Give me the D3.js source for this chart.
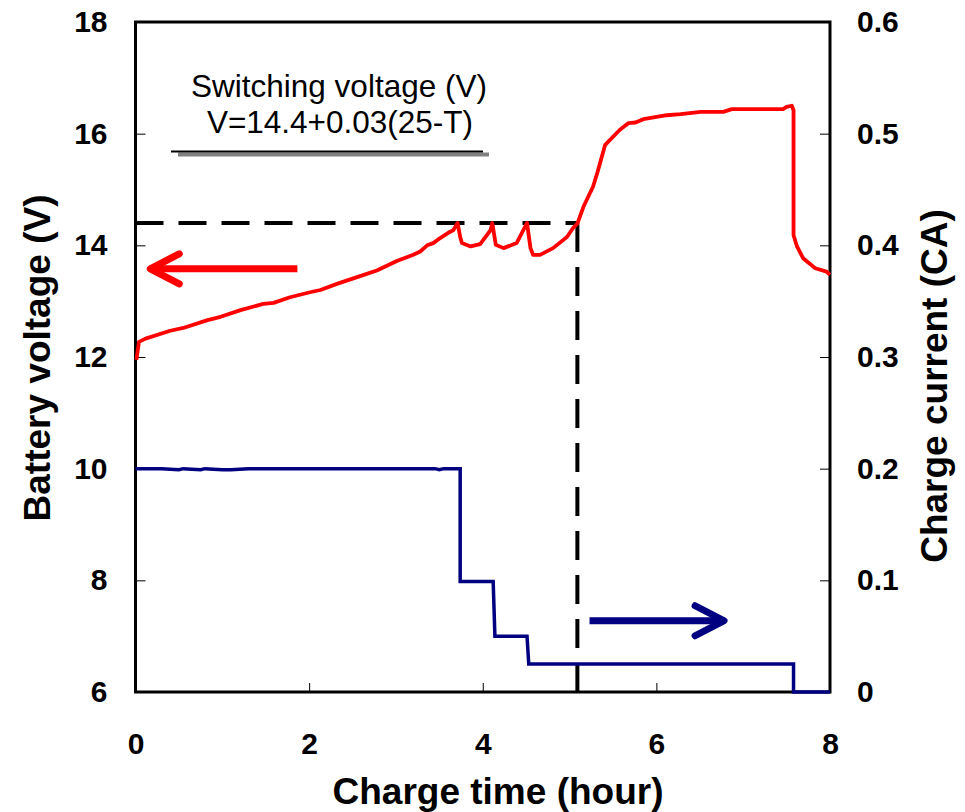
<!DOCTYPE html>
<html>
<head>
<meta charset="utf-8">
<script src="https://cdn.jsdelivr.net/npm/d3@7"></script>
<style>
  body { margin: 0; background: #fff; }
  svg { display: block; font-family: "Liberation Sans", Arial, sans-serif; }
</style>
</head>
<body>
<svg id="chart" width="965" height="812"></svg>
<script>
// battery voltage (hour, V)
let voltageData = [
  [0.01, 11.95], [0.04, 12.27], [0.115, 12.33], [0.40, 12.47], [0.55, 12.52], [0.83, 12.66],
  [0.98, 12.72], [1.21, 12.84], [1.47, 12.95], [1.59, 12.97], [1.78, 13.07], [2.01, 13.16],
  [2.13, 13.20], [2.32, 13.31], [2.63, 13.47], [2.78, 13.55], [3.01, 13.72], [3.20, 13.83],
  [3.28, 13.89], [3.36, 14.00], [3.43, 14.04], [3.51, 14.13], [3.62, 14.24], [3.66, 14.27],
  [3.71, 14.40], [3.74, 14.15], [3.76, 14.04], [3.86, 13.98], [3.97, 14.02], [4.09, 14.27],
  [4.11, 14.40], [4.15, 14.01], [4.24, 13.95], [4.39, 14.04], [4.51, 14.40], [4.55, 13.95],
  [4.58, 13.83], [4.66, 13.83], [4.81, 13.95], [4.97, 14.15], [5.04, 14.31], [5.09, 14.39],
  [5.16, 14.69], [5.27, 15.05], [5.32, 15.30], [5.41, 15.80], [5.58, 16.07], [5.68, 16.19],
  [5.76, 16.20], [5.85, 16.26], [6.12, 16.33], [6.28, 16.35], [6.51, 16.39], [6.77, 16.39],
  [6.87, 16.44], [7.46, 16.44], [7.50, 16.48], [7.56, 16.50], [7.58, 16.42], [7.58, 14.18],
  [7.62, 13.98], [7.69, 13.77], [7.83, 13.59], [7.96, 13.53], [8.0, 13.47]
]

// charge current (hour, CA)
let currentData = [
  [0, 0.2], [0.3, 0.2], [0.5, 0.199], [0.55, 0.2], [0.75, 0.199], [0.8, 0.2], [1.0, 0.199],
  [1.1, 0.199], [1.3, 0.2], [3.45, 0.2], [3.5, 0.199], [3.55, 0.2], [3.74, 0.2], [3.74, 0.099],
  [4.12, 0.099], [4.14, 0.05], [4.51, 0.05], [4.53, 0.025], [7.58, 0.025], [7.58, 0], [8, 0]
]

let xTicks = [0, 2, 4, 6, 8]
let leftTicks = [6, 8, 10, 12, 14, 16, 18]
let rightTicks = [0, 0.1, 0.2, 0.3, 0.4, 0.5, 0.6]

// switching voltage and the time it is reached
let switchVoltage = 14.4
let switchTime = 5.09

// arrows: [fromHour, toHour, level]
let voltageArrow = [1.865, 0.17, 13.58]
let currentArrow = [5.23, 6.78, 0.0638]

let legendLines = ["Switching voltage (V)", "V=14.4+0.03(25-T)"]

let svg = d3.select("#chart")

let plotLeft = 135.5, plotRight = 830, plotTop = 22, plotBottom = 692

let xscale = d3.scaleLinear().domain([0, 8]).range([plotLeft, plotRight])
let yLeft = d3.scaleLinear().domain([6, 18]).range([plotBottom, plotTop])
let yRight = d3.scaleLinear().domain([0, 0.6]).range([plotBottom, plotTop])

// axes with inward ticks
let xAxis = d3.axisBottom(xscale).tickValues(xTicks).tickFormat(d3.format("d"))
  .tickSizeInner(-9).tickSizeOuter(0).tickPadding(41)
let leftAxis = d3.axisLeft(yLeft).tickValues(leftTicks).tickFormat(d3.format("d"))
  .tickSizeInner(-10).tickSizeOuter(0).tickPadding(28)
let rightAxis = d3.axisRight(yRight).tickValues(rightTicks).tickFormat(d => d === 0 ? "0" : d3.format(".1f")(d))
  .tickSizeInner(-10).tickSizeOuter(0).tickPadding(27)

function styleAxis(g){
  g.select(".domain").remove()
  g.selectAll("line").attr("stroke", "#000").attr("stroke-width", 1)
  g.selectAll("text").attr("fill", "#000").style("font-size", "30px").style("font-weight", "bold")
    .style("font-family", "'Liberation Sans', Arial, sans-serif")
}

svg.append("g").attr("transform", "translate(0," + plotBottom + ")").call(xAxis).call(styleAxis)
svg.append("g").attr("transform", "translate(" + plotLeft + ",0)").call(leftAxis).call(styleAxis)
svg.append("g").attr("transform", "translate(" + plotRight + ",0)").call(rightAxis).call(styleAxis)

// plot frame
svg.append("rect")
  .attr("x", plotLeft).attr("y", plotTop)
  .attr("width", plotRight - plotLeft).attr("height", plotBottom - plotTop)
  .attr("fill", "none").attr("stroke", "#000").attr("stroke-width", 3)

// dashed guide lines for the switching voltage
svg.append("line")
  .attr("x1", xscale(0)).attr("x2", xscale(switchTime))
  .attr("y1", yLeft(switchVoltage)).attr("y2", yLeft(switchVoltage))
  .attr("stroke", "#000").attr("stroke-width", 4).attr("stroke-dasharray", "28,15")
svg.append("line")
  .attr("x1", xscale(switchTime)).attr("x2", xscale(switchTime))
  .attr("y1", yLeft(switchVoltage)).attr("y2", yLeft(6))
  .attr("stroke", "#000").attr("stroke-width", 4).attr("stroke-dasharray", "29,15")

// current line
let currentLine = d3.line().x(d => xscale(d[0])).y(d => yRight(d[1]))
svg.append("path")
  .datum(currentData)
  .attr("d", currentLine)
  .attr("fill", "none")
  .attr("stroke", "#000080")
  .attr("stroke-width", 3.5)

// voltage line
let voltageLine = d3.line().x(d => xscale(d[0])).y(d => yLeft(d[1]))
svg.append("path")
  .datum(voltageData)
  .attr("d", voltageLine)
  .attr("fill", "none")
  .attr("stroke", "#ff0000")
  .attr("stroke-width", 3.8)
  .attr("stroke-linejoin", "round")

// arrows
function drawArrow(from, to, y, color){
  let dir = Math.sign(to - from)
  let g = svg.append("g").attr("stroke", color).attr("stroke-width", 7).attr("stroke-linecap", "round").attr("fill", "none")
  g.append("line").attr("x1", from).attr("x2", to).attr("y1", y).attr("y2", y).attr("stroke-linecap", "butt")
  g.append("polyline")
    .attr("points", [[to - dir * 29, y - 15], [to, y], [to - dir * 29, y + 15]].map(p => p.join(",")).join(" "))
    .attr("stroke-linejoin", "round")
}
drawArrow(xscale(voltageArrow[0]), xscale(voltageArrow[1]), yLeft(voltageArrow[2]), "#ff0000")
drawArrow(xscale(currentArrow[0]), xscale(currentArrow[1]), yRight(currentArrow[2]), "#000080")

// legend box text
svg.append("text")
  .attr("x", 339).attr("y", 97)
  .attr("text-anchor", "middle")
  .style("font-size", "31.5px")
  .text(legendLines[0])
svg.append("text")
  .attr("x", 340).attr("y", 133)
  .attr("text-anchor", "middle")
  .style("font-size", "31.5px")
  .text(legendLines[1])
svg.append("line").attr("x1", 178).attr("x2", 489).attr("y1", 154.5).attr("y2", 154.5)
  .attr("stroke", "#808080").attr("stroke-width", 4)
svg.append("line").attr("x1", 171).attr("x2", 483).attr("y1", 151.5).attr("y2", 151.5)
  .attr("stroke", "#000").attr("stroke-width", 2)

// axis titles
svg.append("text")
  .attr("x", 498).attr("y", 804)
  .attr("text-anchor", "middle")
  .style("font-size", "37px").style("font-weight", "bold")
  .text("Charge time (hour)")
svg.append("text")
  .attr("transform", "translate(50," + 358 + ") rotate(-90)")
  .attr("text-anchor", "middle")
  .style("font-size", "37px").style("font-weight", "bold")
  .text("Battery voltage (V)")
svg.append("text")
  .attr("transform", "translate(947," + 386 + ") rotate(-90)")
  .attr("text-anchor", "middle")
  .style("font-size", "37px").style("font-weight", "bold")
  .text("Charge current (CA)")
</script>
</body>
</html>
